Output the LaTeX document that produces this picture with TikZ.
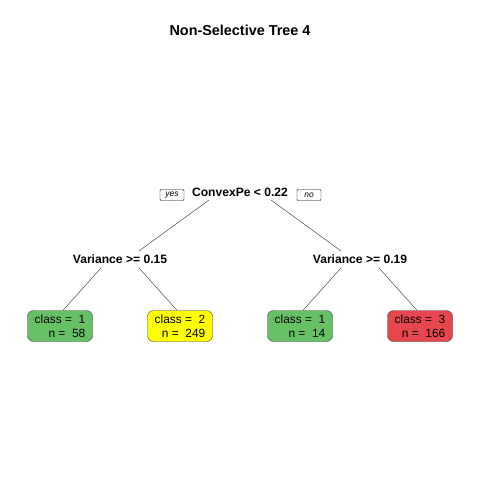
\documentclass[tikz,border=0pt]{standalone}
\usepackage{fontspec}
\setmainfont{Liberation Sans}
\definecolor{leafgreen}{RGB}{102,193,102}
\definecolor{leafyellow}{RGB}{255,255,0}
\definecolor{leafred}{RGB}{230,71,78}
\begin{document}
\begin{tikzpicture}[x=1pt,y=-1pt,
  split/.style={font=\fontsize{12.1}{13}\selectfont\bfseries, inner sep=1pt},
  leaf/.style={draw=black!75, rounded corners=6pt, minimum width=65pt, minimum height=31pt, align=right, inner sep=2pt, font=\fontsize{11.9}{14}\selectfont},
  yn/.style={draw=black, rounded corners=1pt, inner sep=1pt, minimum width=24pt, minimum height=11pt, font=\fontsize{8.5}{9}\selectfont\itshape},
  edge/.style={draw=black!70, line width=0.5pt}]
\useasboundingbox (0,0) rectangle (480,480);
\fill[white] (0,0) rectangle (480,480);
\node[font=\fontsize{14.4}{16}\selectfont\bfseries] (title) at (240,30) {Non-Selective Tree 4};
\node[split] (root) at (240,192) {ConvexPe < 0.22};
\node[yn] (yes) at (172,195) {yes};
\node[yn] (no) at (309,195) {no};
\node[split] (v1) at (120,259) {Variance >= 0.15};
\node[split] (v2) at (360,259) {Variance >= 0.19};
\node[leaf, fill=leafgreen] (l1) at (60,326) {class =\ \ 1\\n =\ \ 58};
\node[leaf, fill=leafyellow] (l2) at (180,326) {class =\ \ 2\\n =\ \ 249};
\node[leaf, fill=leafgreen] (l3) at (300,326) {class =\ \ 1\\n =\ \ 14};
\node[leaf, fill=leafred] (l4) at (420,326) {class =\ \ 3\\n =\ \ 166};
\coordinate (r1) at (209,200);
\coordinate (r2) at (271,200);
\coordinate (a1) at (139,251);
\coordinate (a2) at (341,251);
\coordinate (b1) at (101,268);
\coordinate (b2) at (139,268);
\coordinate (c1) at (341,268);
\coordinate (c2) at (379,268);
\draw[edge] (r1) -- (a1);
\draw[edge] (r2) -- (a2);
\draw[edge] (b1) -- (l1.north -| 63,0);
\draw[edge] (b2) -- (l2.north -| 177,0);
\draw[edge] (c1) -- (l3.north -| 303,0);
\draw[edge] (c2) -- (l4.north -| 417,0);
\end{tikzpicture}
\end{document}
